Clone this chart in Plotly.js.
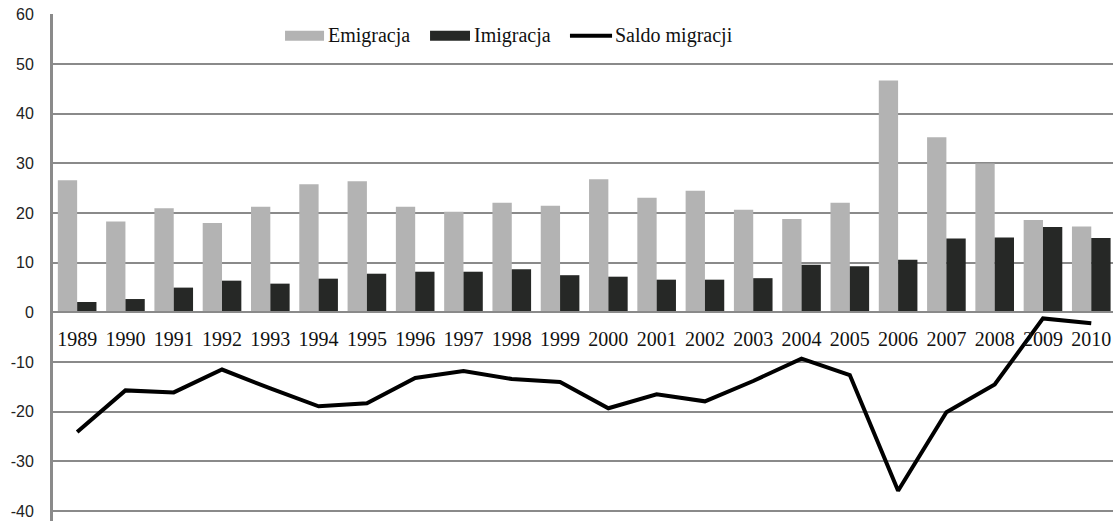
<!DOCTYPE html>
<html>
<head>
<meta charset="utf-8">
<script src="https://cdn.plot.ly/plotly-3.0.1.min.js"></script>
<style>
html,body{margin:0;padding:0;background:#fff;overflow:hidden;}
#chart{width:1113px;height:521px;}
</style>
</head>
<body>
<div id="chart"></div>
<script>
var years = ['1989','1990','1991','1992','1993','1994','1995','1996','1997','1998','1999','2000','2001','2002','2003','2004','2005','2006','2007','2008','2009','2010'];
var emigracja = [26.6,18.3,21.0,18.0,21.3,25.8,26.4,21.3,20.3,22.1,21.5,26.8,23.1,24.5,20.7,18.8,22.1,46.7,35.3,30.0,18.6,17.3];
var imigracja = [2.1,2.7,5.0,6.4,5.8,6.8,7.8,8.2,8.2,8.7,7.5,7.2,6.6,6.6,6.9,9.6,9.3,10.6,14.9,15.1,17.2,15.0];
var saldo = [-24.1,-15.7,-16.1,-11.5,-15.3,-18.9,-18.3,-13.2,-11.8,-13.4,-14.0,-19.3,-16.5,-17.9,-13.8,-9.3,-12.6,-35.9,-20.1,-14.5,-1.2,-2.2];
var seriesNames = ['Emigracja','Imigracja','Saldo migracji'];
var yTicks = [-40,-30,-20,-10,0,10,20,30,40,50,60];

var cEmig = '#b3b3b3', cImig = '#262826', cLine = '#000000';

var yMin = -42.0, yMax = 60.1;

var traces = [
  {type:'bar', name:seriesNames[0], x:years, y:emigracja, marker:{color:cEmig}, showlegend:false},
  {type:'bar', name:seriesNames[1], x:years, y:imigracja, marker:{color:cImig}, showlegend:false},
  {type:'scatter', mode:'lines', name:seriesNames[2], x:years, y:saldo, line:{color:cLine, width:4}, showlegend:false}
];

var legendFont = {family:'"Liberation Serif", "Times New Roman", serif', size:20, color:'#111'};
var layout = {
  width:1113, height:521,
  margin:{l:53, r:0, t:14, b:0},
  paper_bgcolor:'#fff', plot_bgcolor:'#fff',
  barmode:'group', bargap:0.2, bargroupgap:0,
  showlegend:false,
  xaxis:{
    type:'category', range:[-0.5,21.45],
    anchor:'free', position:(0 - yMin)/(yMax - yMin),
    showgrid:false, zeroline:false,
    showline:true, linecolor:'#8a8a8a', linewidth:2,
    ticks:'', ticklabelstandoff:9,
    tickfont:{family:'"Liberation Serif", "Times New Roman", serif', size:20, color:'#111'}
  },
  yaxis:{
    range:[yMin,yMax], tickmode:'array', tickvals:yTicks, ticktext:yTicks.map(String),
    showgrid:true, gridcolor:'#8a8a8a', gridwidth:2,
    zeroline:false,
    showline:true, linecolor:'#8a8a8a', linewidth:3,
    ticks:'', ticklabelstandoff:13, ticklabeloverflow:'allow',
    tickfont:{family:'"Liberation Sans", Arial, sans-serif', size:16, color:'#222'}
  },
  shapes:[
    {type:'rect', xref:'paper', yref:'paper', x0:0.2189, x1:0.2557, y0:0.9474, y1:0.9671, fillcolor:cEmig, line:{width:0}},
    {type:'rect', xref:'paper', yref:'paper', x0:0.3557, x1:0.3934, y0:0.9474, y1:0.9671, fillcolor:cImig, line:{width:0}},
    {type:'line', xref:'paper', yref:'paper', x0:0.4877, x1:0.5274, y0:0.9572, y1:0.9572, line:{color:cLine, width:4}}
  ],
  annotations:[
    {xref:'paper', yref:'paper', x:0.2575, y:0.9572, xanchor:'left', yanchor:'middle', text:seriesNames[0], showarrow:false, font:legendFont},
    {xref:'paper', yref:'paper', x:0.3952, y:0.9572, xanchor:'left', yanchor:'middle', text:seriesNames[1], showarrow:false, font:legendFont},
    {xref:'paper', yref:'paper', x:0.5282, y:0.9572, xanchor:'left', yanchor:'middle', text:seriesNames[2], showarrow:false, font:legendFont}
  ]
};

Plotly.newPlot('chart', traces, layout, {staticPlot:true, displayModeBar:false});
</script>
</body>
</html>
